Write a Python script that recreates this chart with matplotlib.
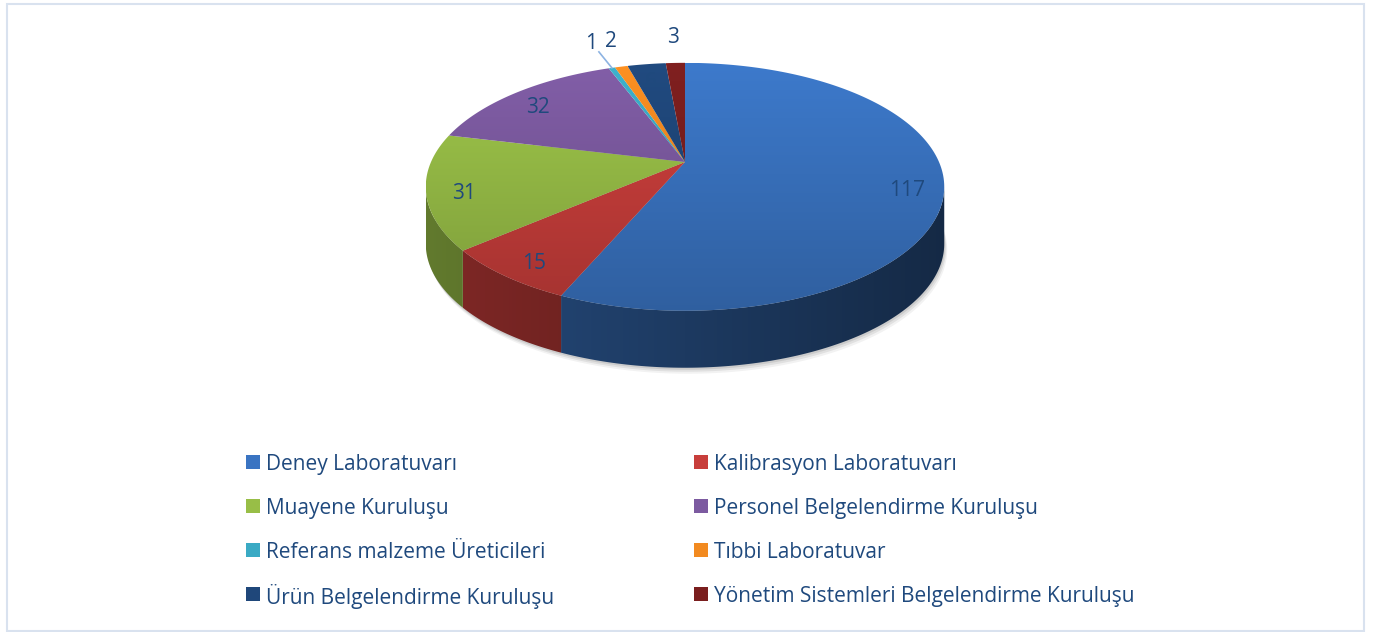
import numpy as np
import matplotlib.pyplot as plt
from matplotlib.patches import Polygon, Rectangle
from matplotlib.colors import to_rgb

categories = [
    "Deney Laboratuvarı",
    "Kalibrasyon Laboratuvarı",
    "Muayene Kuruluşu",
    "Personel Belgelendirme Kuruluşu",
    "Referans malzeme Üreticileri",
    "Tıbbi Laboratuvar",
    "Ürün Belgelendirme Kuruluşu",
    "Yönetim Sistemleri Belgelendirme Kuruluşu",
]
values = [117, 15, 31, 32, 1, 2, 6, 3]
colors = ["#3A74C2", "#C83E3B", "#98BE47", "#7C5AA0", "#3AAAC4", "#F28A20", "#1F477A", "#7A1E1E"]

TEXT_COLOR = "#1F497D"
FONT = ["Open Sans", "DejaVu Sans"]

# 3D pie geometry (pixel space)
CX, CY = 685, 162
RX, RY = 254, 119
PERSP = 0.2
DEPTH = 57


def project(theta, r=1.0):
    u = r * np.cos(theta)
    v = r * np.sin(theta)
    p = 1.0 / (1.0 + PERSP * v)
    return CX + RX * u * p, CY - RY * v * p


def gradient_fill(ax, xy, color, shade, zorder):
    poly = Polygon(xy, closed=True, facecolor="none", edgecolor="none", zorder=zorder)
    ax.add_patch(poly)
    x0, y0 = xy.min(axis=0)
    x1, y1 = xy.max(axis=0)
    xs = np.linspace(x0, x1, max(int(x1 - x0) + 2, 2))
    ys = np.linspace(y0, y1, max(int(y1 - y0) + 2, 2))
    X, Y = np.meshgrid(xs, ys)
    f = shade(X, Y)
    rgb = np.clip(np.array(to_rgb(color))[None, None, :] * f[..., None], 0, 1)
    im = ax.imshow(rgb, extent=(x0, x1, y1, y0), origin="upper", interpolation="bilinear",
                   aspect="auto", zorder=zorder)
    im.set_clip_path(poly)


def top_shade(X, Y):
    return 1.05 - 0.22 * (Y - 63) / 240


def side_shade(X, Y):
    return 0.64 - 0.28 * (X - 430) / 510


fig = plt.figure(figsize=(13.76, 6.32), dpi=100)
ax = fig.add_axes([0, 0, 1, 1])
ax.set_axis_off()

total = sum(values)
cum = np.concatenate([[0], np.cumsum(values)])
starts = np.pi / 2 - 2 * np.pi * cum[:-1] / total
ends = np.pi / 2 - 2 * np.pi * cum[1:] / total
vis_lo, vis_hi = -np.pi + np.arcsin(PERSP), -np.arcsin(PERSP)

# soft shadow under the pie
t_all = np.linspace(0, 2 * np.pi, 400)
bx, by = project(t_all)
for k, a in [(6, 0.05), (4, 0.07), (2, 0.09)]:
    ax.add_patch(Polygon(np.column_stack([bx + k * 0.5, by + DEPTH + k]), closed=True,
                         facecolor="#000000", edgecolor="none", alpha=a, zorder=1))

# visible outer side of each slice
for s, e, c in zip(starts, ends, colors):
    for shift in (-2 * np.pi, 0, 2 * np.pi):
        lo = max(e + shift, vis_lo)
        hi = min(s + shift, vis_hi)
        if hi > lo:
            t = np.linspace(lo, hi, 120)
            tx, ty = project(t)
            xy = np.column_stack([np.concatenate([tx, tx[::-1]]),
                                  np.concatenate([ty, ty[::-1] + DEPTH])])
            gradient_fill(ax, xy, c, side_shade, zorder=2)

# top faces
for s, e, c in zip(starts, ends, colors):
    t = np.linspace(s, e, max(int(abs(s - e) * 80), 8))
    tx, ty = project(t)
    xy = np.column_stack([np.concatenate([[CX], tx]), np.concatenate([[CY], ty])])
    gradient_fill(ax, xy, c, top_shade, zorder=3)

# data labels
prev_x = -1e9
for s, e, v in zip(starts, ends, values):
    mid = (s + e) / 2
    if v >= 5:
        lx, ly = project(mid, 0.86)
        ly += 4
    else:
        lx, ly = project(mid, 1.36)
        lx = max(lx, prev_x + 20)
        prev_x = lx
        ex, ey = project(mid, 1.0)
        if abs(lx - ex) > 12:
            ax.plot([lx + 8, ex], [ly + 11, ey], color="#8DB3E2", lw=1.2, zorder=4)
    ax.text(lx, ly, str(v), ha="center", va="center_baseline", fontsize=15, color=TEXT_COLOR,
            family=FONT, zorder=5)

# legend (two columns)
for i, (name, c) in enumerate(zip(categories, colors)):
    row, col = divmod(i, 2)
    x0 = 246 + 448 * col
    y0 = 462 + 44 * row
    ax.add_patch(Rectangle((x0, y0 - 7), 14, 14, facecolor=c, edgecolor="none", zorder=3))
    ax.text(x0 + 20, y0, name, ha="left", va="center_baseline", fontsize=15, color=TEXT_COLOR,
            family=FONT)

# chart border
ax.add_patch(Rectangle((7, 4), 1357, 627, facecolor="none", edgecolor="#D9E2EF", lw=1.5, zorder=6))

ax.set_xlim(0, 1376)
ax.set_ylim(632, 0)

fig.savefig("out.png", dpi=100, facecolor="white")
